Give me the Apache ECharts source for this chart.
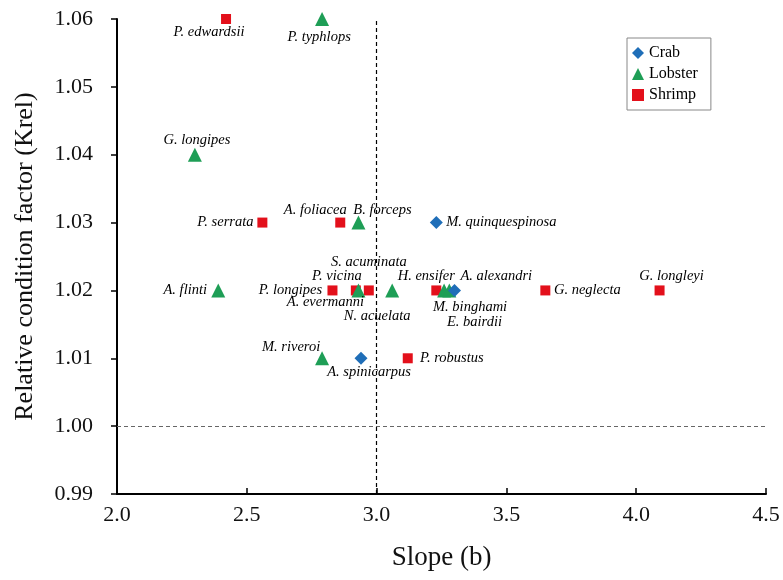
<!DOCTYPE html>
<html><head><meta charset="utf-8">
<script src="https://cdn.jsdelivr.net/npm/echarts@6/dist/echarts.min.js"></script>
<style>html,body{margin:0;padding:0;background:#fff}#c{width:783px;height:580px}</style>
</head><body><div id="c"></div>
<script>
const crabNames = ['M. quinquespinosa', 'A. spinicarpus', 'E. bairdii'];
const crabSlope = [3.23, 2.94, 3.30];
const crabKrel = [1.03, 1.01, 1.02];

const lobsterNames = ['P. typhlops', 'G. longipes', 'B. forceps', 'A. flinti', 'A. evermanni', 'N. acuelata', 'M. binghami', 'A. alexandri', 'M. riveroi'];
const lobsterSlope = [2.79, 2.30, 2.93, 2.39, 2.93, 3.06, 3.26, 3.28, 2.79];
const lobsterKrel = [1.06, 1.04, 1.03, 1.02, 1.02, 1.02, 1.02, 1.02, 1.01];

const shrimpNames = ['P. edwardsii', 'P. serrata', 'A. foliacea', 'P. longipes', 'P. vicina', 'S. acuminata', 'H. ensifer', 'G. neglecta', 'G. longleyi', 'P. robustus'];
const shrimpSlope = [2.42, 2.56, 2.86, 2.83, 2.92, 2.97, 3.23, 3.65, 4.09, 3.12];
const shrimpKrel = [1.06, 1.03, 1.03, 1.02, 1.02, 1.02, 1.02, 1.02, 1.02, 1.01];

const xTicks = [2.0, 2.5, 3.0, 3.5, 4.0, 4.5];
const yTicks = [0.99, 1.00, 1.01, 1.02, 1.03, 1.04, 1.05, 1.06];

// label offsets (pixels, text centre relative to the marker centre)
const labelOffset = {
  'P. edwardsii': [-17, 13], 'P. typhlops': [-3, 18], 'G. longipes': [2, -15],
  'P. serrata': [-37, 0], 'A. foliacea': [-25, -12], 'B. forceps': [24, -12],
  'M. quinquespinosa': [65, 0], 'S. acuminata': [0, -28], 'P. vicina': [-19, -14],
  'P. longipes': [-42, 0], 'A. evermanni': [-33, 12], 'N. acuelata': [-15, 26],
  'H. ensifer': [-10, -14], 'A. alexandri': [47, -14], 'M. binghami': [26, 17],
  'E. bairdii': [20, 32], 'G. neglecta': [42, 0], 'G. longleyi': [12, -14],
  'A. flinti': [-33, 0], 'M. riveroi': [-31, -11], 'A. spinicarpus': [8, 14],
  'P. robustus': [44, 0]
};

const FONT = "'Liberation Serif', 'Times New Roman', serif";

function build(names, xs, ys) {
  return names.map((n, i) => ({
    name: n,
    value: [xs[i], ys[i]],
    label: {
      show: true, formatter: n, position: 'inside',
      offset: labelOffset[n] || [0, 0],
      align: 'center', verticalAlign: 'middle',
      fontFamily: FONT, fontStyle: 'italic', fontSize: 14.5, color: '#000'
    }
  }));
}

const chart = echarts.init(document.getElementById('c'), null, {renderer: 'canvas'});
chart.setOption({
  animation: false,
  backgroundColor: '#fff',
  grid: {left: 117, right: 17, top: 19, bottom: 86},
  legend: {
    orient: 'vertical', left: 627, top: 38,
    data: ['Crab', 'Lobster', 'Shrimp'],
    borderColor: '#888', borderWidth: 1,
    padding: [7, 13, 7, 5],
    itemWidth: 12, itemHeight: 12, itemGap: 5,
    textStyle: {fontFamily: FONT, fontSize: 16, color: '#000'}
  },
  xAxis: {
    type: 'value', min: 2.0, max: 4.5, interval: 0.5,
    name: 'Slope (b)', nameLocation: 'middle', nameGap: 50,
    nameTextStyle: {fontFamily: FONT, fontSize: 27, color: '#111'},
    axisLine: {onZero: false, lineStyle: {color: '#000', width: 2}},
    axisTick: {inside: true, length: 6, lineStyle: {color: '#000', width: 1.5}},
    axisLabel: {fontFamily: FONT, fontSize: 22, color: '#111', margin: 10,
      formatter: v => { const t = xTicks.find(k => Math.abs(k - v) < 1e-6); return (t !== undefined ? t : v).toFixed(1); }},
    splitLine: {show: false}
  },
  yAxis: {
    type: 'value', min: 0.99, max: 1.06, interval: 0.01,
    name: 'Relative condition factor (Krel)', nameLocation: 'middle', nameGap: 79,
    nameTextStyle: {fontFamily: FONT, fontSize: 26, color: '#111'},
    axisLine: {onZero: false, lineStyle: {color: '#000', width: 2}},
    axisTick: {inside: false, length: 6, lineStyle: {color: '#000', width: 1.5}},
    axisLabel: {fontFamily: FONT, fontSize: 22, color: '#111', margin: 24,
      formatter: v => { const t = yTicks.find(k => Math.abs(k - v) < 1e-6); return (t !== undefined ? t : v).toFixed(2); }},
    splitLine: {show: false}
  },
  series: [
    {
      name: 'Crab', type: 'scatter', symbol: 'diamond', symbolSize: 13,
      itemStyle: {color: '#1F6EB8', opacity: 1}, z: 5,
      data: build(crabNames, crabSlope, crabKrel),
      markLine: {
        silent: true, symbol: 'none', label: {show: false},
        data: [
          {xAxis: 3.0, lineStyle: {type: [4, 3], color: '#000', width: 1.2}},
          {yAxis: 1.00, lineStyle: {type: [4, 3], color: '#666', width: 1}}
        ]
      }
    },
    {
      name: 'Lobster', type: 'scatter', symbol: 'triangle', symbolSize: 14,
      itemStyle: {color: '#1E9E56', opacity: 1}, z: 4,
      data: build(lobsterNames, lobsterSlope, lobsterKrel)
    },
    {
      name: 'Shrimp', type: 'scatter', symbol: 'rect', symbolSize: 10,
      itemStyle: {color: '#E3101B', opacity: 1}, z: 3,
      data: build(shrimpNames, shrimpSlope, shrimpKrel)
    }
  ]
});
</script>
</body></html>
